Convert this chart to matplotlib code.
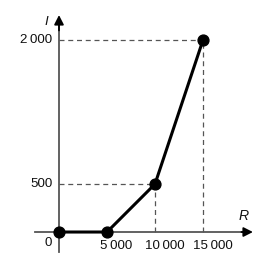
import matplotlib
matplotlib.use("Agg")
import matplotlib.pyplot as plt

R_values = [0, 5000, 10000, 15000]
I_values = [0, 0, 500, 2000]
x_tick_labels = ["5\u2009000", "10\u2009000", "15\u2009000"]
x_tick_vals = [5000, 10000, 15000]
y_tick_labels = ["500", "2\u2009000"]
y_tick_vals = [500, 2000]

plt.rcParams['font.family'] = ['Liberation Sans', 'DejaVu Sans']
fig = plt.figure(figsize=(2.76, 2.66), dpi=100)
ax = fig.add_axes([0, 0, 1, 1])
ax.set_xlim(-6146, 22604)
ax.set_ylim(-354, 2417)
ax.axis('off')

axc = '#555555'
# dashed guides
for xv, yv in zip(R_values[2:], I_values[2:]):
    ax.plot([0, xv], [yv, yv], color=axc, lw=0.9, ls=(0, (4, 3)), zorder=1)
    ax.plot([xv, xv], [0, yv], color=axc, lw=0.9, ls=(0, (4, 3)), zorder=1)

# axes with arrows
ax.plot([-2500, 19500], [0, 0], color=axc, lw=1.3, zorder=2)
ax.plot([0, 0], [-210, 2200], color=axc, lw=1.3, zorder=2)
ax.annotate('', xy=(20200, 0), xytext=(19000, 0),
            arrowprops=dict(arrowstyle='-|>,head_length=0.55,head_width=0.28', color='black', lw=1.3, shrinkA=0, shrinkB=0), zorder=3)
ax.annotate('', xy=(0, 2260), xytext=(0, 2100),
            arrowprops=dict(arrowstyle='-|>,head_length=0.55,head_width=0.28', color='black', lw=1.3, shrinkA=0, shrinkB=0), zorder=3)

# data
ax.plot(R_values, I_values, color='black', lw=2.2, marker='o', ms=7.8, zorder=4, solid_capstyle='round')

fs = 9.6
for xv, lab in zip(x_tick_vals, x_tick_labels):
    ax.text(xv + 1000, -145, lab, ha='center', va='center', fontsize=fs, color='#111111')
for yv, lab in zip(y_tick_vals, y_tick_labels):
    ax.text(-700, yv, lab, ha='right', va='center', fontsize=fs, color='#111111')
ax.text(-1150, -115, '0', ha='center', va='center', fontsize=fs, color='#111111')
ax.text(-1350, 2190, 'I', ha='center', va='center', fontsize=fs, style='italic', color='#111111')
ax.text(19200, 170, 'R', ha='center', va='center', fontsize=fs+0.5, style='italic', color='#111111')

fig.savefig('out.png', dpi=100)
